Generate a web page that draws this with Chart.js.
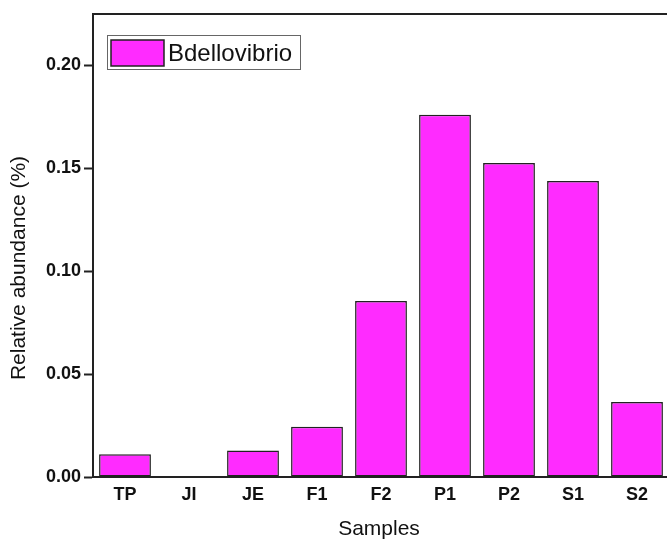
<!DOCTYPE html>
<html lang="en">
<head>
  <meta charset="UTF-8">
  <title>Bdellovibrio relative abundance</title>
  <script src="https://cdn.jsdelivr.net/npm/chart.js"></script>
  <style>
    html, body { margin: 0; padding: 0; background: #fff; overflow: hidden; }
    #wrap { width: 672px; height: 543px; }
  </style>
</head>
<body>
  <div id="wrap"><canvas id="chart" width="672" height="543"></canvas></div>
  <script>
    const samples = ['TP', 'JI', 'JE', 'F1', 'F2', 'P1', 'P2', 'S1', 'S2'];
    const abundance = [0.0110, 0, 0.0129, 0.0244, 0.0855, 0.1761, 0.1526, 0.1438, 0.0364];
    const yTicks = [0, 0.05, 0.10, 0.15, 0.20];
    const seriesName = 'Bdellovibrio';

    const barColor = '#ff2bff';
    const lineColor = '#222';

    // frame, legend box and axis titles
    const decor = {
      id: 'decor',
      afterDraw(chart) {
        const ctx = chart.ctx;
        const a = chart.chartArea;
        ctx.save();
        ctx.strokeStyle = lineColor;
        ctx.lineWidth = 2;
        ctx.beginPath();
        ctx.moveTo(a.left, a.top);
        ctx.lineTo(a.right, a.top);
        ctx.lineTo(a.right, a.bottom);
        ctx.stroke();

        // legend
        ctx.lineWidth = 1;
        ctx.strokeStyle = '#666';
        ctx.fillStyle = '#fff';
        ctx.fillRect(107, 35, 193, 34);
        ctx.strokeRect(107.5, 35.5, 193, 34);
        ctx.fillStyle = barColor;
        ctx.fillRect(111, 40, 53, 26);
        ctx.strokeStyle = '#222';
        ctx.lineWidth = 1.5;
        ctx.strokeRect(111, 40, 53, 26);
        ctx.fillStyle = '#111';
        ctx.font = '24px Arial, "Liberation Sans", sans-serif';
        ctx.textBaseline = 'middle';
        ctx.textAlign = 'left';
        ctx.fillText(chart.data.datasets[0].label, 168, 54);

        // axis titles
        ctx.font = '21px Arial, "Liberation Sans", sans-serif';
        ctx.textAlign = 'center';
        ctx.fillText('Samples', 379, 529);
        ctx.translate(19, 268);
        ctx.rotate(-Math.PI / 2);
        ctx.fillText('Relative abundance (%)', 0, 0);
        ctx.restore();
      }
    };

    new Chart(document.getElementById('chart'), {
      type: 'bar',
      data: {
        labels: samples,
        datasets: [{
          label: seriesName,
          data: abundance,
          backgroundColor: barColor,
          borderColor: '#222',
          borderWidth: 1.5,
          borderSkipped: false,
          categoryPercentage: 1,
          barPercentage: 0.81
        }]
      },
      options: {
        responsive: false,
        animation: false,
        layout: { padding: { top: 14, right: 3, left: 0, bottom: 0 } },
        plugins: {
          legend: { display: false },
          tooltip: { enabled: false }
        },
        scales: {
          x: {
            offset: true,
            grid: { display: false, drawTicks: false },
            border: { color: lineColor, width: 2 },
            ticks: {
              padding: 7,
              color: '#111',
              font: { family: 'Arial, "Liberation Sans", sans-serif', size: 18, weight: 'bold' }
            },
            afterFit(scale) { scale.height = 66; }
          },
          y: {
            min: 0,
            max: 0.225,
            grid: { drawOnChartArea: false, tickLength: 9, tickColor: lineColor, tickWidth: 2 },
            border: { color: lineColor, width: 2 },
            afterBuildTicks(scale) { scale.ticks = yTicks.map(v => ({ value: v })); },
            ticks: {
              padding: 3,
              color: '#111',
              font: { family: 'Arial, "Liberation Sans", sans-serif', size: 18, weight: 'bold' },
              callback: v => v.toFixed(2)
            },
            afterFit(scale) { scale.width = 93; }
          }
        }
      },
      plugins: [decor]
    });
  </script>
</body>
</html>
